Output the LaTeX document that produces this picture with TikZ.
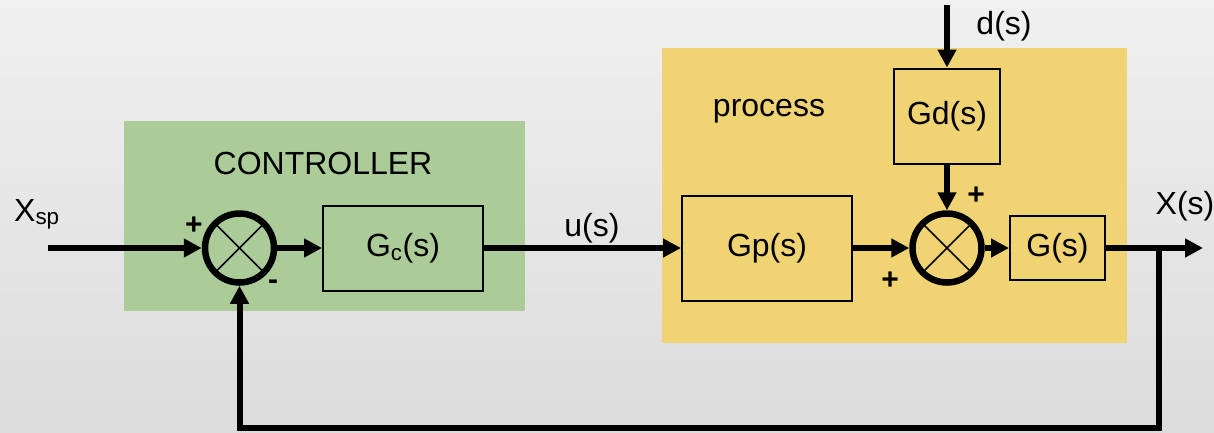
\documentclass[tikz,border=0pt]{standalone}
\usepackage{fontspec}
\setmainfont{Liberation Sans}
\usetikzlibrary{arrows.meta}

\definecolor{bgtop}{RGB}{240,240,240}
\definecolor{bgbot}{RGB}{220,220,220}
\definecolor{ctrlgreen}{RGB}{171,203,152}
\definecolor{procyellow}{RGB}{240,211,115}

\tikzset{
  signal/.style={line width=6pt, -{Triangle[length=18pt,width=18pt]}},
  block/.style={draw, line width=2pt, inner sep=0pt, font=\fontsize{32}{38}\selectfont},
  summer/.style={circle, draw, line width=6.5pt, minimum size=69pt, inner sep=0pt,
    path picture={
      \draw[line width=1.6pt] (path picture bounding box.center) ++(-40pt,-40pt) -- ++(80pt,80pt);
      \draw[line width=1.6pt] (path picture bounding box.center) ++(-40pt,40pt) -- ++(80pt,-80pt);
    }},
  label/.style={font=\fontsize{32}{38}\selectfont, inner sep=0pt},
  sign/.style={font=\fontsize{30}{34}\selectfont\bfseries, inner sep=0pt}
}

\begin{document}
\begin{tikzpicture}[x=1pt, y=-1pt]
  % canvas and background
  \useasboundingbox (0,0) rectangle (1214,432);
  \shade[top color=bgtop, bottom color=bgbot] (0,0) rectangle (1214,432);

  % controller and process regions
  \fill[ctrlgreen] (124,121) rectangle (525,311);
  \fill[procyellow] (662,48) rectangle (1127,343);
  \node[label] (ctrltitle) at (323,163) {CONTROLLER};
  \node[label] (proctitle) at (769,111) {process};

  % summing junctions
  \node[summer] (s1) at (239.5,248) {};
  \node[summer] (s2) at (947,248) {};

  % transfer-function blocks
  \node[block, minimum width=160pt, minimum height=85pt] (gc) at (403,248) {G\textsubscript{c}(s)};
  \node[block, minimum width=170pt, minimum height=105pt] (gp) at (767,248) {Gp(s)};
  \node[block, minimum width=106pt, minimum height=95pt] (gd) at (947,116) {Gd(s)};
  \node[block, minimum width=95pt, minimum height=64pt] (g) at (1057.5,248) {G(s)};

  % signal endpoints
  \coordinate (xin) at (48,248);
  \coordinate (din) at (947,5);
  \coordinate (xout) at (1203,248);
  \coordinate (br) at (1159,248);
  \coordinate (fb) at (1159,428);

  % signal labels
  \node[label, anchor=base west] (xsp) at (14,221) {X\textsubscript{sp}};
  \node[label] (us) at (592,228) {u(s)};
  \node[label] (ds) at (1004,26) {d(s)};
  \node[label] (xs) at (1185,206) {X(s)};

  % signs at the summing junctions
  \node[sign] (p1) at (194,226) {+};
  \node[sign] (m1) at (273,285) {-};
  \node[sign] (p2) at (976,196) {+};
  \node[sign] (p3) at (890,281) {+};

  % forward path
  \draw[signal] (xin) -- (s1.west);
  \draw[signal] (s1.east) -- (gc.west);
  \draw[signal] (gc.east) -- (gp.west);
  \draw[signal] (gp.east) -- (s2.west);
  \draw[signal] (s2.east) -- (g.west);
  \draw[signal] (g.east) -- (xout);

  % disturbance path
  \draw[signal] (din) -- (gd.north);
  \draw[signal] (gd.south) -- (s2.north);

  % feedback path
  \draw[signal] (br) -- (fb) -| (s1.south);
\end{tikzpicture}
\end{document}
